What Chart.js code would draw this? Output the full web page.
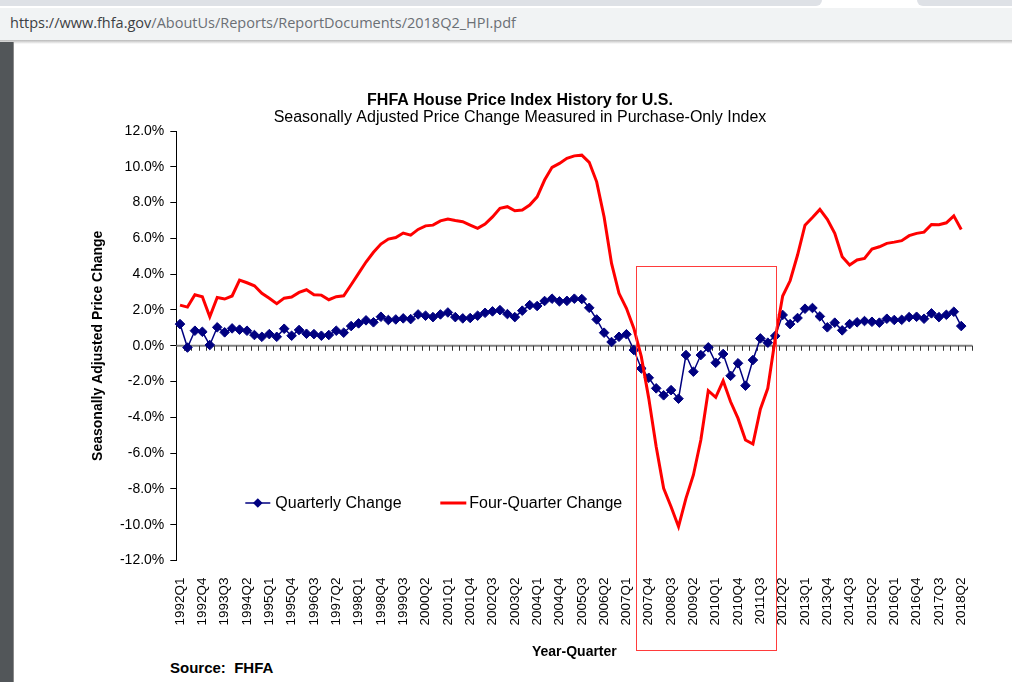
<!DOCTYPE html>
<html>
<head>
<meta charset="utf-8">
<script src="https://cdn.jsdelivr.net/npm/chart.js@4.4.1/dist/chart.umd.min.js"></script>
<style>
  html, body { margin: 0; padding: 0; }
  body { width: 1012px; height: 682px; overflow: hidden; background: #fff; position: relative; font-family: "Liberation Sans", Arial, sans-serif; }
  .tabstrip { position: absolute; left: 0; top: 0; width: 1012px; height: 8px; background: #fff; }
  .tab-l { position: absolute; left: 0; top: 0; width: 822px; height: 6px; background: #dee1e6; border-bottom-right-radius: 6px; }
  .tab-r { position: absolute; left: 917px; top: 0; width: 95px; height: 6px; background: #dee1e6; border-bottom-left-radius: 6px; }
  .urlbar { position: absolute; left: 0; top: 8px; width: 1012px; height: 32px; background: #f1f3f4; }
  .url { position: absolute; left: 10px; top: 5px; font-family: "Open Sans", "Noto Sans", sans-serif; font-size: 14.5px; line-height: 20px; color: #6b6f74; white-space: nowrap; }
  .url b { font-weight: normal; color: #3c4043; }
  .shadow { position: absolute; left: 0; top: 40px; width: 1012px; height: 4px; background: linear-gradient(#b9b9b9, #ffffff); }
  .strip { position: absolute; left: 0; top: 42px; width: 13px; height: 640px; background: #525659; border-right: 1px solid #8a8a8a; }
  .source { position: absolute; left: 170px; top: 659px; font-size: 15px; font-weight: bold; color: #000; white-space: pre; }
  canvas { position: absolute; left: 0; top: 0; }
</style>
</head>
<body>
<div class="tabstrip"><div class="tab-l"></div><div class="tab-r"></div></div>
<div class="urlbar"><div class="url"><b>https://www.fhfa.gov</b>/AboutUs/Reports/ReportDocuments/2018Q2_HPI.pdf</div></div>
<div class="shadow"></div>
<div class="strip"></div>
<div class="source">Source:  FHFA</div>
<canvas id="c" width="1012" height="682"></canvas>
<script>
// ---- categories (1992Q1 .. 2018Q3; last slot is empty on the axis) ----
const firstYear = 1992, lastYear = 2018, lastQuarter = 3;
const categories = [];
for (let yr = firstYear; yr <= lastYear; yr++) {
  for (let q = 1; q <= 4; q++) {
    if (yr === lastYear && q > lastQuarter) break;
    categories.push(yr + 'Q' + q);
  }
}

// ---- series values (percent) ----
const quarterlyChange = [
  1.21, -0.10, 0.84, 0.78, 0.04, 1.03, 0.75, 0.97, 0.90, 0.84,
  0.60, 0.50, 0.65, 0.50, 0.95, 0.56, 0.88, 0.67, 0.65, 0.56,
  0.60, 0.84, 0.73, 1.10, 1.25, 1.42, 1.31, 1.62, 1.44, 1.47,
  1.53, 1.49, 1.75, 1.68, 1.60, 1.75, 1.86, 1.60, 1.53, 1.55,
  1.68, 1.84, 1.92, 1.99, 1.77, 1.60, 1.96, 2.27, 2.22, 2.50,
  2.63, 2.48, 2.51, 2.63, 2.61, 2.12, 1.47, 0.73, 0.21, 0.50,
  0.64, -0.24, -1.27, -1.79, -2.38, -2.77, -2.48, -2.96, -0.52, -1.45,
  -0.52, -0.09, -0.95, -0.46, -1.68, -0.98, -2.23, -0.80, 0.41, 0.17,
  0.55, 1.72, 1.21, 1.55, 2.07, 2.11, 1.64, 1.03, 1.29, 0.86,
  1.21, 1.31, 1.38, 1.34, 1.29, 1.51, 1.44, 1.45, 1.60, 1.62,
  1.51, 1.81, 1.60, 1.73, 1.90, 1.10
];
const fourQuarterChange = [
  2.27, 2.16, 2.85, 2.74, 1.62, 2.70, 2.61, 2.78, 3.67, 3.52,
  3.35, 2.93, 2.65, 2.35, 2.66, 2.72, 2.98, 3.13, 2.85, 2.83,
  2.57, 2.74, 2.79, 3.41, 4.04, 4.68, 5.22, 5.68, 5.96, 6.05,
  6.30, 6.18, 6.50, 6.70, 6.74, 6.98, 7.08, 7.00, 6.93, 6.74,
  6.56, 6.80, 7.20, 7.68, 7.77, 7.54, 7.58, 7.86, 8.32, 9.26,
  9.97, 10.19, 10.47, 10.61, 10.65, 10.25, 9.16, 7.20, 4.60, 2.93,
  2.09, 0.97, -0.61, -2.94, -5.64, -7.97, -9.00, -10.11, -8.53, -7.22,
  -5.27, -2.51, -2.88, -1.96, -3.13, -4.06, -5.27, -5.49, -3.55, -2.38,
  0.40, 2.78, 3.63, 5.07, 6.74, 7.17, 7.62, 7.06, 6.28, 4.97,
  4.51, 4.79, 4.88, 5.40, 5.53, 5.72, 5.79, 5.87, 6.15, 6.28,
  6.35, 6.78, 6.76, 6.87, 7.26, 6.50
];

// ---- axis ticks ----
const yMin = -12, yMax = 12, yStep = 2;
const xLabelEvery = 3;

// ---- highlighted period (red box), in axis units ----
const boxStartIndex = 61.3, boxEndIndex = 80.1;
const boxTopValue = 4.45, boxBottomValue = -17.0;

const FONT = '"Liberation Sans", Arial, sans-serif';

const overlay = {
  id: 'overlay',
  beforeDatasetsDraw(chart) {
    const { ctx, chartArea, scales: { x, y } } = chart;
    const y0 = y.getPixelForValue(0);
    ctx.save();
    ctx.strokeStyle = '#808080';
    ctx.lineWidth = 2;
    ctx.beginPath();
    ctx.moveTo(chartArea.left, y0);
    ctx.lineTo(chartArea.right, y0);
    ctx.stroke();
    ctx.strokeStyle = '#333';
    ctx.lineWidth = 1;
    ctx.beginPath();
    for (let k = 1; k <= categories.length; k++) {
      const px = Math.round(x.getPixelForValue(k - 0.5)) + 0.5;
      ctx.moveTo(px, y0);
      ctx.lineTo(px, y0 + 5);
    }
    ctx.stroke();
    ctx.restore();
  },
  afterDraw(chart) {
    const { ctx, chartArea, scales: { x, y } } = chart;
    ctx.save();
    // highlighted box
    const bx1 = x.getPixelForValue(boxStartIndex), bx2 = x.getPixelForValue(boxEndIndex);
    const by1 = y.getPixelForValue(boxTopValue), by2 = y.getPixelForValue(boxBottomValue);
    ctx.strokeStyle = '#ff3b3b';
    ctx.lineWidth = 1;
    ctx.strokeRect(Math.round(bx1) + 0.5, Math.round(by1) + 0.5, Math.round(bx2 - bx1), Math.round(by2 - by1));
    // legend
    const ly = chartArea.top + 372;
    const lx = chartArea.left + 69;
    ctx.font = '16px ' + FONT;
    ctx.textBaseline = 'middle';
    ctx.fillStyle = '#000';
    // quarterly
    ctx.strokeStyle = '#000080';
    ctx.lineWidth = 1.5;
    ctx.beginPath(); ctx.moveTo(lx, ly); ctx.lineTo(lx + 25, ly); ctx.stroke();
    ctx.fillStyle = '#000080';
    ctx.beginPath();
    const cx = lx + 12.5, r = 4.8;
    ctx.moveTo(cx, ly - r); ctx.lineTo(cx + r, ly); ctx.lineTo(cx, ly + r); ctx.lineTo(cx - r, ly); ctx.closePath();
    ctx.fill();
    ctx.fillStyle = '#000';
    ctx.fillText(chart.data.datasets[0].label, lx + 30, ly + 1);
    // four-quarter
    const lx2 = chartArea.left + 264;
    ctx.strokeStyle = '#ff0000';
    ctx.lineWidth = 3;
    ctx.beginPath(); ctx.moveTo(lx2, ly); ctx.lineTo(lx2 + 26, ly); ctx.stroke();
    ctx.fillText(chart.data.datasets[1].label, lx2 + 29, ly + 1);
    ctx.restore();
  }
};

new Chart(document.getElementById('c'), {
  type: 'line',
  data: {
    labels: categories,
    datasets: [
      {
        label: 'Quarterly Change',
        data: quarterlyChange,
        borderColor: '#000080',
        backgroundColor: '#000080',
        borderWidth: 1.5,
        pointStyle: 'rectRot',
        pointRadius: 4.8,
        pointBorderWidth: 1,
        pointBackgroundColor: '#000080',
        pointBorderColor: '#000080',
        tension: 0,
        order: 2
      },
      {
        label: 'Four-Quarter Change',
        data: fourQuarterChange,
        borderColor: '#ff0000',
        backgroundColor: '#ff0000',
        borderWidth: 3,
        pointRadius: 0,
        tension: 0,
        order: 1
      }
    ]
  },
  options: {
    responsive: false,
    animation: false,
    events: [],
    layout: { padding: { left: 67.6, right: 39.6, top: 84, bottom: 21 } },
    plugins: {
      legend: { display: false },
      tooltip: { enabled: false },
      title: {
        display: true,
        text: 'FHFA House Price Index History for U.S.',
        color: '#000',
        font: { family: FONT, size: 16, weight: 'bold', lineHeight: 1.05 },
        padding: { top: 8.6, bottom: 0 }
      },
      subtitle: {
        display: true,
        text: 'Seasonally Adjusted Price Change Measured in Purchase-Only Index',
        color: '#000',
        font: { family: FONT, size: 16, weight: 'normal', lineHeight: 1.05 },
        padding: { top: 0.2, bottom: 4.6 }
      }
    },
    scales: {
      x: {
        type: 'category',
        offset: true,
        grid: { display: false, drawTicks: false },
        border: { display: false },
        ticks: {
          autoSkip: false,
          maxRotation: 90,
          minRotation: 90,
          padding: 17,
          color: '#000',
          font: { family: FONT, size: 13.5 },
          callback: function (value, index) { return index % xLabelEvery === 0 ? categories[index] : ''; }
        },
        title: {
          display: true,
          text: 'Year-Quarter',
          color: '#000',
          font: { family: FONT, size: 14, weight: 'bold' },
          padding: { top: 0, bottom: 0 }
        },
        afterFit: function (s) { s.height = 100.5; }
      },
      y: {
        min: yMin,
        max: yMax,
        ticks: {
          stepSize: yStep,
          padding: 6,
          color: '#000',
          font: { family: FONT, size: 14 },
          callback: function (v) { return v.toFixed(1) + '%'; }
        },
        grid: { drawOnChartArea: false, drawTicks: true, tickLength: 6, color: '#000' },
        border: { display: true, color: '#000', width: 1 },
        title: {
          display: true,
          text: 'Seasonally Adjusted Price Change',
          color: '#000',
          font: { family: FONT, size: 14, weight: 'bold' },
          padding: { top: 22, bottom: 0 }
        },
        afterFit: function (s) { s.width = 108.7; }
      }
    }
  },
  plugins: [overlay]
});
</script>
</body>
</html>
